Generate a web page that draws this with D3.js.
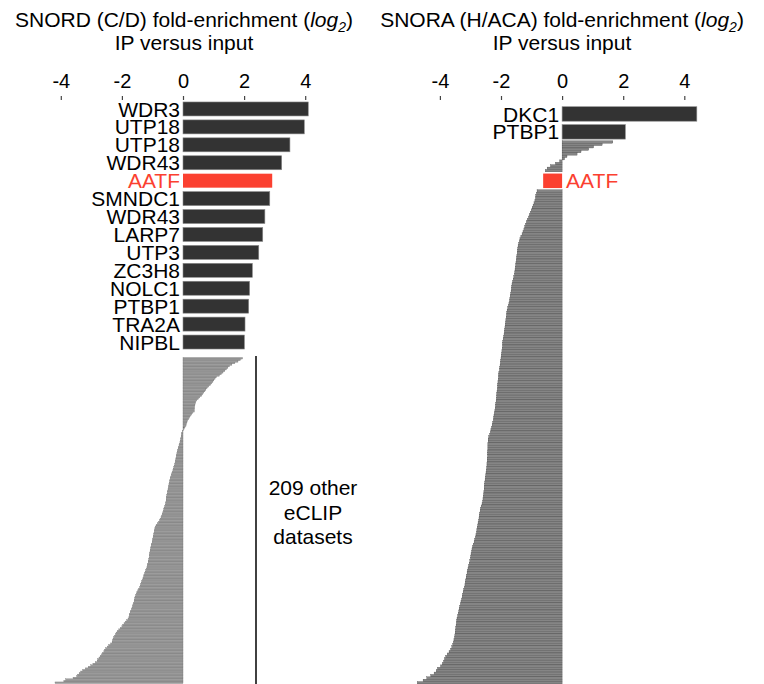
<!DOCTYPE html>
<html>
<head>
<meta charset="utf-8">
<script src="https://cdn.jsdelivr.net/npm/d3@7"></script>
<style>
  html, body { margin: 0; padding: 0; background: #fff; }
  svg text { font-family: "Liberation Sans", Arial, sans-serif; }
</style>
</head>
<body>
<svg id="chart" width="764" height="684"></svg>
<script>
// ---- SNORD (C/D) panel ----
const snordNames = ["WDR3","UTP18","UTP18","WDR43","AATF","SMNDC1","WDR43","LARP7","UTP3","ZC3H8","NOLC1","PTBP1","TRA2A","NIPBL"];
const snordValues = [4.10,3.97,3.50,3.23,2.92,2.84,2.68,2.61,2.48,2.27,2.18,2.15,2.03,2.01];
// remaining eCLIP datasets, sorted
const snordOther = [
  1.95,1.88,1.80,1.70,1.60,1.52,1.47,1.42,1.37,1.31,
  1.26,1.19,1.10,1.05,1.01,0.98,0.94,0.90,0.84,0.79,
  0.75,0.72,0.68,0.64,0.61,0.55,0.50,0.45,0.42,0.40,
  0.39,0.38,0.38,0.37,0.37,0.32,0.28,0.24,0.21,0.18,
  0.15,0.13,0.11,0.10,0.07,0.04,0.02,-0.02,-0.04,-0.05,
  -0.06,-0.07,-0.08,-0.09,-0.10,-0.12,-0.13,-0.15,-0.16,-0.18,
  -0.19,-0.20,-0.21,-0.22,-0.23,-0.24,-0.25,-0.26,-0.27,-0.29,
  -0.30,-0.32,-0.33,-0.35,-0.37,-0.38,-0.40,-0.42,-0.43,-0.44,
  -0.45,-0.46,-0.47,-0.48,-0.49,-0.50,-0.51,-0.52,-0.53,-0.54,
  -0.55,-0.55,-0.56,-0.57,-0.58,-0.60,-0.62,-0.63,-0.64,-0.66,
  -0.68,-0.70,-0.72,-0.75,-0.77,-0.80,-0.84,-0.88,-0.91,-0.92,
  -0.93,-0.94,-0.95,-0.96,-0.97,-0.98,-0.99,-1.00,-1.01,-1.03,
  -1.04,-1.05,-1.06,-1.07,-1.08,-1.09,-1.10,-1.10,-1.11,-1.12,
  -1.13,-1.14,-1.16,-1.17,-1.18,-1.20,-1.22,-1.24,-1.26,-1.28,
  -1.29,-1.31,-1.33,-1.35,-1.37,-1.39,-1.40,-1.42,-1.45,-1.48,
  -1.51,-1.53,-1.55,-1.57,-1.58,-1.59,-1.60,-1.62,-1.64,-1.65,
  -1.67,-1.69,-1.71,-1.73,-1.75,-1.76,-1.77,-1.80,-1.84,-1.89,
  -1.93,-1.97,-2.00,-2.05,-2.10,-2.15,-2.19,-2.21,-2.24,-2.27,
  -2.29,-2.31,-2.32,-2.37,-2.43,-2.48,-2.53,-2.57,-2.59,-2.63,
  -2.67,-2.71,-2.75,-2.79,-2.81,-2.87,-2.95,-3.02,-3.10,-3.20,
  -3.28,-3.35,-3.40,-3.45,-3.48,-3.60,-3.84,-3.90,-4.19
];

// ---- SNORA (H/ACA) panel ----
const snoraNames = ["DKC1","PTBP1"];
const snoraValues = [4.41,2.07];
const snoraAbove = [1.66,1.31,1.03,0.87,0.62,0.49,0.16,0.08,-0.08,-0.22,-0.38,-0.49,-0.55];
const snoraAATF = -0.62;
const snoraBelow = [
  -0.82,-0.84,-0.86,-0.87,-0.89,-0.92,-0.95,-0.98,-1.01,-1.04,
  -1.07,-1.10,-1.14,-1.17,-1.20,-1.22,-1.25,-1.28,-1.31,-1.35,
  -1.38,-1.40,-1.42,-1.44,-1.45,-1.46,-1.47,-1.48,-1.49,-1.50,
  -1.51,-1.52,-1.53,-1.54,-1.55,-1.56,-1.58,-1.60,-1.62,-1.64,
  -1.65,-1.66,-1.67,-1.68,-1.70,-1.71,-1.72,-1.74,-1.76,-1.78,
  -1.80,-1.81,-1.82,-1.83,-1.84,-1.85,-1.86,-1.87,-1.88,-1.89,
  -1.90,-1.91,-1.93,-1.94,-1.95,-1.95,-1.96,-1.97,-1.98,-1.99,
  -2.00,-2.01,-2.02,-2.03,-2.04,-2.05,-2.07,-2.08,-2.08,-2.09,
  -2.10,-2.11,-2.11,-2.12,-2.13,-2.14,-2.14,-2.15,-2.16,-2.17,
  -2.18,-2.19,-2.20,-2.22,-2.23,-2.24,-2.25,-2.27,-2.29,-2.31,
  -2.33,-2.35,-2.37,-2.40,-2.42,-2.42,-2.43,-2.43,-2.43,-2.44,
  -2.44,-2.44,-2.45,-2.45,-2.46,-2.46,-2.47,-2.48,-2.49,-2.50,
  -2.51,-2.52,-2.53,-2.54,-2.55,-2.55,-2.56,-2.57,-2.58,-2.59,
  -2.60,-2.62,-2.65,-2.67,-2.68,-2.70,-2.71,-2.72,-2.73,-2.75,
  -2.76,-2.78,-2.79,-2.80,-2.82,-2.84,-2.86,-2.88,-2.91,-2.93,
  -2.95,-2.96,-2.98,-2.99,-3.00,-3.02,-3.04,-3.06,-3.08,-3.10,
  -3.11,-3.13,-3.14,-3.16,-3.17,-3.18,-3.20,-3.22,-3.24,-3.26,
  -3.27,-3.29,-3.31,-3.33,-3.35,-3.37,-3.38,-3.40,-3.42,-3.44,
  -3.45,-3.46,-3.47,-3.48,-3.49,-3.50,-3.51,-3.52,-3.54,-3.56,
  -3.58,-3.61,-3.65,-3.70,-3.76,-3.81,-3.85,-3.88,-3.92,-3.98,
  -4.08,-4.12,-4.19,-4.30,-4.43,-4.55,-4.74
];

const tickValues = [-4,-2,0,2,4];
const highlight = "AATF";

const FONT = 21;
const LABEL_FONT = 21;
const DARK = "#333333";
const RED = "#fb4030";

const svg = d3.select("#chart");

function drawTitle(g, cx, line1, line2) {
  const t = g.append("text")
    .attr("x", cx).attr("y", 27)
    .attr("text-anchor", "middle")
    .style("font-size", FONT + "px")
    .attr("fill", "#000");
  t.append("tspan").text(line1 + " (");
  t.append("tspan").style("font-style", "italic").text("log");
  t.append("tspan").style("font-style", "italic").style("font-size", "14px")
    .attr("dy", 5).text("2");
  t.append("tspan").attr("dy", -5).text(")");
  g.append("text")
    .attr("x", cx).attr("y", 50)
    .attr("text-anchor", "middle")
    .style("font-size", FONT + "px")
    .attr("fill", "#000")
    .text(line2);
}

function drawAxis(g, x) {
  const axis = d3.axisTop(x).tickValues(tickValues).tickSize(4).tickPadding(8)
    .tickFormat(d3.format("d"));
  const a = g.append("g").attr("transform", "translate(0,100)").call(axis);
  a.select(".domain").remove();
  a.selectAll(".tick line").attr("stroke", "#444").attr("stroke-width", 1.2);
  a.selectAll(".tick text")
    .style("font-size", "20px")
    .style("font-family", "\"Liberation Sans\", Arial, sans-serif")
    .attr("fill", "#000")
    .text(d => d < 0 ? "-" + Math.abs(d) : d);
}

// ---------- left panel ----------
{
  const g = svg.append("g");
  const x = d3.scaleLinear().domain([-4, 4]).range([60.8, 305.2]);
  drawTitle(g, 184, "SNORD (C/D) fold-enrichment", "IP versus input");
  drawAxis(g, x);

  const yTop = d3.scaleBand().domain(d3.range(snordNames.length))
    .range([100, 351]).paddingInner(0.22).paddingOuter(0.11);
  g.selectAll("rect.lab").data(snordValues).join("rect")
    .attr("class", "lab")
    .attr("x", d => x(Math.min(0, d)))
    .attr("width", d => Math.abs(x(d) - x(0)))
    .attr("y", (d, i) => yTop(i))
    .attr("height", yTop.bandwidth())
    .attr("fill", (d, i) => snordNames[i] === highlight ? RED : DARK)
    .attr("stroke", (d, i) => snordNames[i] === highlight ? "none" : "#8a8a8a")
    .attr("stroke-width", 0.6);
  g.selectAll("text.lab").data(snordNames).join("text")
    .attr("class", "lab")
    .attr("x", x(0) - 3)
    .attr("y", (d, i) => yTop(i) + yTop.bandwidth() / 2)
    .attr("dy", "0.36em")
    .attr("text-anchor", "end")
    .style("font-size", LABEL_FONT + "px")
    .attr("fill", d => d === highlight ? RED : "#000")
    .text(d => d);

  const yOther = d3.scaleBand().domain(d3.range(snordOther.length)).range([357.5, 683.5]);
  g.selectAll("rect.other").data(snordOther).join("rect")
    .attr("class", "other")
    .attr("x", d => x(Math.min(0, d)))
    .attr("width", d => Math.abs(x(d) - x(0)))
    .attr("y", (d, i) => yOther(i))
    .attr("height", yOther.bandwidth())
    .attr("fill", "#9c9c9c")
    .attr("stroke", "#6a6a6a")
    .attr("stroke-width", 0.3);

  // bracket for the remaining datasets
  g.append("line")
    .attr("x1", 256).attr("x2", 256).attr("y1", 356).attr("y2", 684)
    .attr("stroke", "#111").attr("stroke-width", 1.6);
  const note = g.append("text")
    .attr("text-anchor", "middle")
    .style("font-size", FONT + "px")
    .attr("fill", "#000");
  [`${snordOther.length} other`, "eCLIP", "datasets"].forEach((s, i) => {
    note.append("tspan").attr("x", 313).attr("y", 495 + i * 24.5).text(s);
  });
}

// ---------- right panel ----------
{
  const g = svg.append("g");
  const x = d3.scaleLinear().domain([-4, 4]).range([439.9, 684.3]);
  drawTitle(g, 562, "SNORA (H/ACA) fold-enrichment", "IP versus input");
  drawAxis(g, x);

  // rows: labelled rows are thick, the rest are thin stripes
  const THICK = 7.5;
  const rows = [];
  snoraNames.forEach((n, i) => rows.push({ name: n, value: snoraValues[i], span: THICK, labelled: true }));
  snoraAbove.forEach(v => rows.push({ name: null, value: v, span: 1, labelled: false }));
  rows.push({ name: highlight, value: snoraAATF, span: THICK, labelled: true });
  snoraBelow.forEach(v => rows.push({ name: null, value: v, span: 1, labelled: false }));
  let acc = 0;
  rows.forEach(r => { r.start = acc; acc += r.span; });
  const y = d3.scaleLinear().domain([0, acc]).range([105, 684]);
  const pad = (y(THICK) - y(0) - 14.5) / 2;

  const thin = rows.filter(r => !r.labelled);
  g.selectAll("rect.other").data(thin).join("rect")
    .attr("class", "other")
    .attr("x", d => x(Math.min(0, d.value)))
    .attr("width", d => Math.abs(x(d.value) - x(0)))
    .attr("y", d => y(d.start))
    .attr("height", d => y(d.start + d.span) - y(d.start))
    .attr("fill", "#858585")
    .attr("stroke", "#3a3a3a")
    .attr("stroke-width", 0.3);

  const thick = rows.filter(r => r.labelled);
  g.selectAll("rect.lab").data(thick).join("rect")
    .attr("class", "lab")
    .attr("x", d => x(Math.min(0, d.value)))
    .attr("width", d => Math.abs(x(d.value) - x(0)))
    .attr("y", d => y(d.start) + pad)
    .attr("height", d => y(d.start + d.span) - y(d.start) - 2 * pad)
    .attr("fill", d => d.name === highlight ? RED : DARK)
    .attr("stroke", d => d.name === highlight ? "none" : "#8a8a8a")
    .attr("stroke-width", 0.6);
  g.selectAll("text.lab").data(thick).join("text")
    .attr("class", "lab")
    .attr("x", d => d.value >= 0 ? x(0) - 3 : x(0) + 4)
    .attr("y", d => (y(d.start) + y(d.start + d.span)) / 2)
    .attr("dy", "0.36em")
    .attr("text-anchor", d => d.value >= 0 ? "end" : "start")
    .style("font-size", LABEL_FONT + "px")
    .attr("fill", d => d.name === highlight ? RED : "#000")
    .text(d => d.name);
}
</script>
</body>
</html>
